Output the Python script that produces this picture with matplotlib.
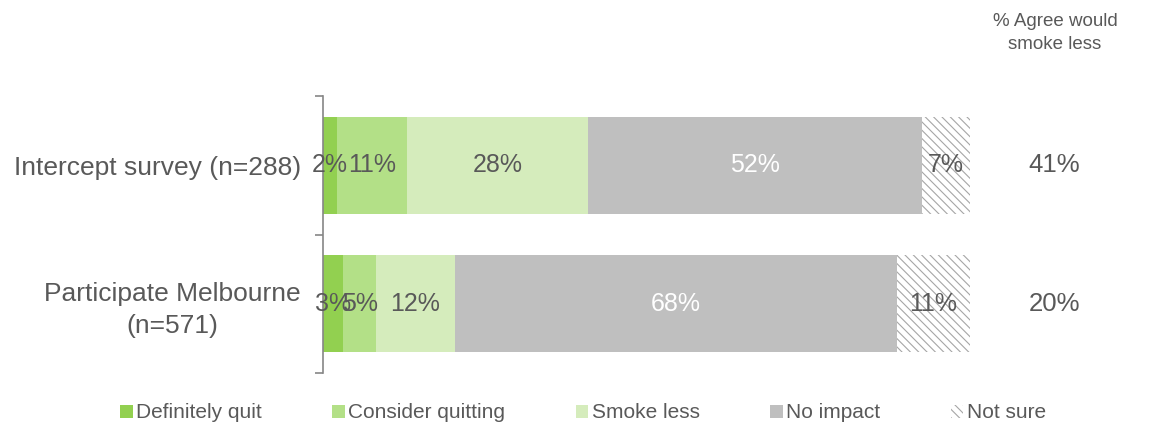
import matplotlib.pyplot as plt
from matplotlib.patches import Patch

plt.rcParams['font.family'] = ['Liberation Sans', 'DejaVu Sans']
plt.rcParams['hatch.linewidth'] = 0.8

groups = ['Intercept survey (n=288)', 'Participate Melbourne\n(n=571)']
series = ['Definitely quit', 'Consider quitting', 'Smoke less', 'No impact', 'Not sure']
definitely_quit = [2.2, 3.1]
consider_quitting = [10.8, 5.1]
smoke_less = [28.0, 12.2]
no_impact = [51.6, 68.3]
not_sure = [7.4, 11.3]
values = [definitely_quit, consider_quitting, smoke_less, no_impact, not_sure]

colors = ['#92D050', '#B3E087', '#D5ECBC', '#BFBFBF', 'white']
label_colors = ['#595959', '#595959', '#595959', 'white', '#595959']
grey = '#595959'

fig = plt.figure(figsize=(11.5, 4.28), dpi=100)
ax = fig.add_axes([323 / 1150, 1 - 373 / 428, 647 / 1150, 277 / 428])

y = [0, 1]
left = [0, 0]
for vals, name, c, lc in zip(values, series, colors, label_colors):
    if name == 'Not sure':
        bars = ax.barh(y, vals, left=left, height=0.7, color=c, edgecolor='#A6A6A6',
                       linewidth=0, hatch='\\\\\\\\')
    else:
        bars = ax.barh(y, vals, left=left, height=0.7, color=c, linewidth=0)
    for i, v in enumerate(vals):
        ax.text(left[i] + v / 2, y[i], f'{round(v)}%', ha='center', va='center',
                color=lc, fontsize=18)
    left = [l + v for l, v in zip(left, vals)]

# % agree would smoke less = first three categories
for i in range(2):
    agree = definitely_quit[i] + consider_quitting[i] + smoke_less[i]
    ax.text(113, y[i], f'{round(agree)}%', ha='center', va='center', color=grey,
            fontsize=18.5, clip_on=False)
fig.text(1055 / 1150, 1 - 33 / 428, '% Agree would\nsmoke less', ha='center', va='center',
         color=grey, fontsize=13.5, linespacing=1.5)

ax.set_xlim(0, 100)
ax.set_ylim(1.5, -0.5)
ax.set_xticks([])
ax.set_yticks(y)
ax.set_yticklabels(groups, fontsize=19, color=grey)
for lbl in ax.get_yticklabels():
    lbl.set_multialignment('center')
    lbl.set_linespacing(1.4)
ax.set_yticks([-0.5, 0.5, 1.5], minor=True)
ax.tick_params(axis='y', which='major', length=0, pad=16)
ax.tick_params(axis='y', which='minor', length=6, color='#868686', width=1.2)
for s in ['top', 'right', 'bottom']:
    ax.spines[s].set_visible(False)
ax.spines['left'].set_color('#868686')
ax.spines['left'].set_linewidth(1.2)

handles = []
for name, c in zip(series, colors):
    if name == 'Not sure':
        handles.append(Patch(facecolor='white', edgecolor='#A6A6A6', linewidth=0,
                             hatch='\\\\\\\\', label=name))
    else:
        handles.append(Patch(facecolor=c, linewidth=0, label=name))
leg = fig.legend(handles=handles, loc='center', bbox_to_anchor=(583 / 1150, 1 - 413 / 428),
                 ncol=5, frameon=False, fontsize=15, handlelength=0.6, handleheight=0.6,
                 handletextpad=0.15, columnspacing=3.4)
for t in leg.get_texts():
    t.set_color(grey)

fig.savefig('out.png', dpi=100)
